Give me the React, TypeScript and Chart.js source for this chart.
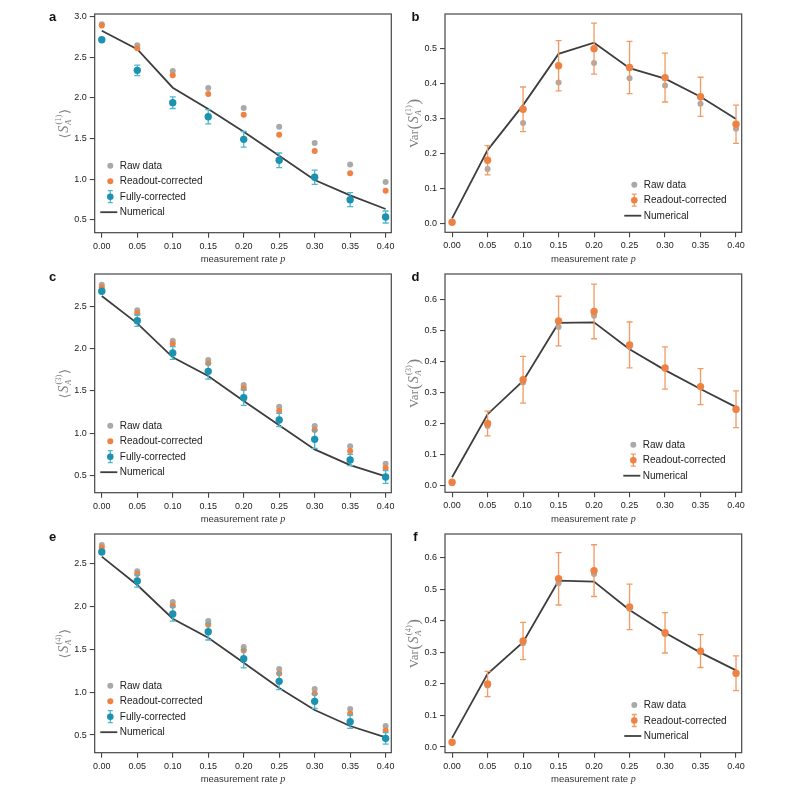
import React, { useEffect, useRef } from 'react';
import { Chart, registerables } from 'chart.js';
Chart.register(...registerables);

// ---------------- data ----------------
const P = [0, 0.05, 0.1, 0.15, 0.2, 0.25, 0.3, 0.35, 0.4];
const X_TICKS = [0, 0.05, 0.1, 0.15, 0.2, 0.25, 0.3, 0.35, 0.4];

const A_RAW = [2.906, 2.648, 2.332, 2.123, 1.877, 1.648, 1.447, 1.184, 0.967];
const A_READOUT = [2.893, 2.611, 2.279, 2.049, 1.795, 1.549, 1.348, 1.074, 0.861];
const A_FULL = [2.717, 2.34, 1.943, 1.77, 1.492, 1.234, 1.025, 0.75, 0.537];
const A_FULL_ERR = [0.01, 0.064, 0.072, 0.088, 0.096, 0.09, 0.088, 0.086, 0.074];
const A_NUM = [2.828, 2.6, 2.127, 1.865, 1.586, 1.291, 0.992, 0.803, 0.635];

const B_RAW = [0.003, 0.156, 0.288, 0.404, 0.46, 0.416, 0.395, 0.343, 0.271];
const B_READOUT = [0.003, 0.181, 0.327, 0.452, 0.501, 0.447, 0.418, 0.363, 0.284];
const B_READOUT_ERR = [0.0, 0.042, 0.064, 0.072, 0.073, 0.075, 0.07, 0.056, 0.055];
const B_NUM = [0.014, 0.21, 0.339, 0.486, 0.518, 0.445, 0.415, 0.363, 0.299];

const C_RAW = [2.761, 2.457, 2.097, 1.868, 1.571, 1.314, 1.085, 0.844, 0.638];
const C_READOUT = [2.729, 2.421, 2.061, 1.828, 1.532, 1.267, 1.038, 0.789, 0.587];
const C_FULL = [2.682, 2.334, 1.951, 1.733, 1.421, 1.156, 0.927, 0.682, 0.48];
const C_FULL_ERR = [0.02, 0.067, 0.075, 0.091, 0.091, 0.079, 0.107, 0.067, 0.075];
const C_NUM = [2.626, 2.302, 1.899, 1.678, 1.381, 1.093, 0.808, 0.621, 0.488];

const D_RAW = [0.0075, 0.192, 0.332, 0.511, 0.547, 0.448, 0.377, 0.319, 0.244];
const D_READOUT = [0.011, 0.2, 0.341, 0.53, 0.561, 0.453, 0.379, 0.319, 0.246];
const D_READOUT_ERR = [0.0, 0.04, 0.075, 0.08, 0.088, 0.074, 0.068, 0.058, 0.059];
const D_NUM = [0.027, 0.23, 0.337, 0.524, 0.526, 0.439, 0.372, 0.311, 0.253];

const E_RAW = [2.714, 2.407, 2.05, 1.828, 1.525, 1.269, 1.036, 0.803, 0.605];
const E_READOUT = [2.686, 2.376, 2.007, 1.785, 1.486, 1.218, 0.985, 0.752, 0.554];
const E_FULL = [2.632, 2.294, 1.91, 1.704, 1.389, 1.125, 0.892, 0.655, 0.461];
const E_FULL_ERR = [0.02, 0.072, 0.083, 0.097, 0.107, 0.097, 0.083, 0.078, 0.068];
const E_NUM = [2.578, 2.248, 1.855, 1.634, 1.343, 1.048, 0.791, 0.605, 0.473];

const F_RAW = [0.014, 0.195, 0.329, 0.519, 0.548, 0.438, 0.358, 0.301, 0.231];
const F_READOUT = [0.015, 0.2, 0.336, 0.533, 0.559, 0.444, 0.362, 0.304, 0.234];
const F_READOUT_ERR = [0.0, 0.04, 0.059, 0.083, 0.082, 0.072, 0.064, 0.052, 0.055];
const F_NUM = [0.029, 0.232, 0.332, 0.527, 0.524, 0.434, 0.362, 0.299, 0.243];

const MEAN_TICKS_A = [0.5, 1.0, 1.5, 2.0, 2.5, 3.0];
const MEAN_TICKS_CE = [0.5, 1.0, 1.5, 2.0, 2.5];
const VAR_TICKS_B = [0.0, 0.1, 0.2, 0.3, 0.4, 0.5];
const VAR_TICKS_DF = [0.0, 0.1, 0.2, 0.3, 0.4, 0.5, 0.6];

const LEGEND_MEAN = ['Raw data', 'Readout-corrected', 'Fully-corrected', 'Numerical'];
const LEGEND_VAR = ['Raw data', 'Readout-corrected', 'Numerical'];
const X_TITLE = 'measurement rate ';
const X_TITLE_VAR = 'p';

// ---------------- style ----------------
const TEAL = '#1b92b0';
const TEAL_ERR = '#52b5cd';
const ORANGE = '#ef8243';
const ORANGE_ERR = '#f29a62';
const GREY = '#a9a9a9';
const LINE = '#3e3e3e';
const FRAME = '#464646';
const TEXT = '#222222';
const TITLE = '#808080';
const SANS = "'Liberation Sans', Arial, sans-serif";
const SERIF = "'Liberation Serif', 'DejaVu Serif', serif";

const YW = 40;
const XH = 30;

type Panel = {
  label: string;
  kind: 'mean' | 'var';
  n: number;
  raw: number[];
  ro: number[];
  full: number[] | null;
  err: number[];
  num: number[];
  yMin: number;
  yMax: number;
  yTicks: number[];
  canvas: [number, number, number, number];
  frame: [number, number, number, number];
  legend: [number, number];
  labelPos: [number, number];
};

const PANELS: Panel[] = [
  { label: 'a', kind: 'mean', n: 1, raw: A_RAW, ro: A_READOUT, full: A_FULL, err: A_FULL_ERR, num: A_NUM,
    yMin: 0.344, yMax: 3.033, yTicks: MEAN_TICKS_A,
    canvas: [0, 0, 400, 266], frame: [94.7, 14, 391.3, 232.7], legend: [15.6, 151.7], labelPos: [52.6, 17] },
  { label: 'b', kind: 'var', n: 1, raw: B_RAW, ro: B_READOUT, full: null, err: B_READOUT_ERR, num: B_NUM,
    yMin: -0.0258, yMax: 0.6004, yTicks: VAR_TICKS_B,
    canvas: [396, 0, 397, 266], frame: [445, 14, 741.7, 232.3], legend: [189.3, 170.7], labelPos: [415.5, 17] },
  { label: 'c', kind: 'mean', n: 3, raw: C_RAW, ro: C_READOUT, full: C_FULL, err: C_FULL_ERR, num: C_NUM,
    yMin: 0.2945, yMax: 2.887, yTicks: MEAN_TICKS_CE,
    canvas: [0, 255, 400, 272], frame: [94.7, 274, 391.3, 492.7], legend: [15.6, 151.7], labelPos: [52.6, 277] },
  { label: 'd', kind: 'var', n: 3, raw: D_RAW, ro: D_READOUT, full: null, err: D_READOUT_ERR, num: D_NUM,
    yMin: -0.0215, yMax: 0.6816, yTicks: VAR_TICKS_DF,
    canvas: [396, 255, 397, 272], frame: [445, 274, 741.7, 492.3], legend: [188.3, 170.7], labelPos: [415.5, 277] },
  { label: 'e', kind: 'mean', n: 4, raw: E_RAW, ro: E_READOUT, full: E_FULL, err: E_FULL_ERR, num: E_NUM,
    yMin: 0.294, yMax: 2.842, yTicks: MEAN_TICKS_CE,
    canvas: [0, 515, 400, 278], frame: [94.7, 534, 391.3, 752.7], legend: [15.6, 151.7], labelPos: [52.6, 537] },
  { label: 'f', kind: 'var', n: 4, raw: F_RAW, ro: F_READOUT, full: null, err: F_READOUT_ERR, num: F_NUM,
    yMin: -0.018, yMax: 0.675, yTicks: VAR_TICKS_DF,
    canvas: [396, 515, 397, 278], frame: [445, 534, 741.7, 752.7], legend: [189.3, 171], labelPos: [415.5, 537] },
];

function drawErrBar(ctx: CanvasRenderingContext2D, x: number, y1: number, y2: number, color: string, cap: number) {
  ctx.save();
  ctx.strokeStyle = color;
  ctx.lineWidth = 1.3;
  ctx.beginPath();
  ctx.moveTo(x, y1);
  ctx.lineTo(x, y2);
  ctx.moveTo(x - cap, y1);
  ctx.lineTo(x + cap, y1);
  ctx.moveTo(x - cap, y2);
  ctx.lineTo(x + cap, y2);
  ctx.stroke();
  ctx.restore();
}

function drawDot(ctx: CanvasRenderingContext2D, x: number, y: number, r: number, color: string) {
  ctx.save();
  ctx.fillStyle = color;
  ctx.beginPath();
  ctx.arc(x, y, r, 0, Math.PI * 2);
  ctx.fill();
  ctx.restore();
}

function drawYTitle(ctx: CanvasRenderingContext2D, kind: 'mean' | 'var', n: number, cx: number, cy: number) {
  ctx.save();
  ctx.translate(cx, cy);
  ctx.rotate(-Math.PI / 2);
  ctx.fillStyle = TITLE;
  ctx.textBaseline = 'alphabetic';
  ctx.textAlign = 'left';
  type Seg = { t: string; f: string; dy: number } | { sup: string; sub: string; fs: string; fb: string };
  const segs: Seg[] = [];
  if (kind === 'mean') {
    segs.push({ t: '\u27E8', f: `13px 'DejaVu Serif', serif`, dy: 1 });
  } else {
    segs.push({ t: 'Var', f: `13px ${SERIF}`, dy: 0 });
    segs.push({ t: '(', f: `17px ${SERIF}`, dy: 1.5 });
  }
  segs.push({ t: 'S', f: `italic 14px ${SERIF}`, dy: 0 });
  segs.push({ sup: `(${n})`, sub: 'A', fs: `8.5px ${SERIF}`, fb: `italic 8.5px ${SERIF}` });
  if (kind === 'mean') {
    segs.push({ t: '\u27E9', f: `13px 'DejaVu Serif', serif`, dy: 1 });
  } else {
    segs.push({ t: ')', f: `17px ${SERIF}`, dy: 1.5 });
  }
  const widths = segs.map((s) => {
    if ('t' in s) {
      ctx.font = s.f;
      return ctx.measureText(s.t).width + 0.6;
    }
    ctx.font = s.fs;
    const w1 = ctx.measureText(s.sup).width;
    ctx.font = s.fb;
    const w2 = ctx.measureText(s.sub).width;
    return Math.max(w1, w2) + 1.2;
  });
  const total = widths.reduce((a, b) => a + b, 0);
  let x = -total / 2;
  const base = 5;
  segs.forEach((s, i) => {
    if ('t' in s) {
      ctx.font = s.f;
      ctx.fillText(s.t, x, base + s.dy);
    } else {
      ctx.font = s.fs;
      ctx.fillText(s.sup, x + 0.6, base - 6.5);
      ctx.font = s.fb;
      ctx.fillText(s.sub, x, base + 3);
    }
    x += widths[i];
  });
  ctx.restore();
}

function makePlugin(p: Panel) {
  return {
    id: 'panelDecor' + p.label,
    beforeDatasetDraw(chart: any, args: any) {
      const ds = chart.data.datasets[args.index];
      if (!ds.errKey) return;
      const ctx = chart.ctx as CanvasRenderingContext2D;
      const xs = chart.scales.x;
      const ys = chart.scales.y;
      const values: number[] = ds.errBase;
      const errs: number[] = ds.errVals;
      ctx.save();
      const a = chart.chartArea;
      ctx.beginPath();
      ctx.rect(a.left, a.top, a.right - a.left, a.bottom - a.top);
      ctx.clip();
      P.forEach((px, i) => {
        const x = xs.getPixelForValue(px);
        const y1 = ys.getPixelForValue(values[i] + errs[i]);
        const y2 = ys.getPixelForValue(values[i] - errs[i]);
        drawErrBar(ctx, x, y1, y2, ds.errColor, 3);
      });
      ctx.restore();
    },
    afterDraw(chart: any) {
      const ctx = chart.ctx as CanvasRenderingContext2D;
      const a = chart.chartArea;
      // frame
      ctx.save();
      ctx.strokeStyle = FRAME;
      ctx.lineWidth = 1.2;
      ctx.strokeRect(a.left, a.top, a.right - a.left, a.bottom - a.top);
      ctx.restore();
      // legend
      const lx = a.left + p.legend[0];
      let ly = a.top + p.legend[1];
      const step = 15.5;
      const labels = p.kind === 'mean' ? LEGEND_MEAN : LEGEND_VAR;
      ctx.save();
      ctx.font = `10px ${SANS}`;
      ctx.fillStyle = TEXT;
      ctx.textBaseline = 'middle';
      labels.forEach((lab) => {
        if (lab === 'Raw data') drawDot(ctx, lx, ly, 3, GREY);
        else if (lab === 'Readout-corrected') {
          if (p.kind === 'var') {
            drawErrBar(ctx, lx, ly - 6, ly + 6, ORANGE_ERR, 2.5);
            drawDot(ctx, lx, ly, 3.3, ORANGE);
          } else drawDot(ctx, lx, ly, 3, ORANGE);
        } else if (lab === 'Fully-corrected') {
          drawErrBar(ctx, lx, ly - 6, ly + 6, TEAL_ERR, 2.5);
          drawDot(ctx, lx, ly, 3.3, TEAL);
        } else {
          ctx.save();
          ctx.strokeStyle = LINE;
          ctx.lineWidth = 1.8;
          ctx.beginPath();
          ctx.moveTo(lx - 10, ly);
          ctx.lineTo(lx + 7, ly);
          ctx.stroke();
          ctx.restore();
        }
        ctx.fillStyle = TEXT;
        ctx.fillText(lab, lx + 9.5, ly + 0.5);
        ly += step;
      });
      ctx.restore();
      // x title
      ctx.save();
      ctx.fillStyle = '#333333';
      ctx.textBaseline = 'middle';
      ctx.font = `9.5px ${SANS}`;
      const w1 = ctx.measureText(X_TITLE).width;
      ctx.font = `italic 10px ${SERIF}`;
      const w2 = ctx.measureText(X_TITLE_VAR).width;
      const cx = (a.left + a.right) / 2;
      const ty = a.bottom + 26.6;
      const tx = cx - (w1 + w2) / 2;
      ctx.font = `9.5px ${SANS}`;
      ctx.fillText(X_TITLE, tx, ty);
      ctx.font = `italic 10px ${SERIF}`;
      ctx.fillText(X_TITLE_VAR, tx + w1, ty);
      ctx.restore();
      // y title
      drawYTitle(ctx, p.kind, p.n, a.left - 32.2, (a.top + a.bottom) / 2);
      // panel label
      ctx.save();
      ctx.fillStyle = '#111111';
      ctx.font = `bold 13px ${SANS}`;
      ctx.textAlign = 'center';
      ctx.textBaseline = 'middle';
      ctx.fillText(p.label, p.labelPos[0] - p.canvas[0], p.labelPos[1] - p.canvas[1]);
      ctx.restore();
    },
  };
}

function pts(vals: number[]) {
  return P.map((x, i) => ({ x, y: vals[i] }));
}

function PanelChart({ p }: { p: Panel }) {
  const ref = useRef<HTMLCanvasElement | null>(null);
  useEffect(() => {
    const el = ref.current;
    if (!el) return;
    const [cx, cy, cw, ch] = p.canvas;
    const [l, t, r, b] = p.frame;
    const padding = {
      left: l - cx - YW,
      top: t - cy,
      right: cx + cw - r,
      bottom: cy + ch - b - XH,
    };
    const datasets: any[] = [
      { label: 'Numerical', data: pts(p.num), showLine: true, borderColor: LINE, borderWidth: 1.8, pointRadius: 0, fill: false, order: 4 },
      { label: 'Raw data', data: pts(p.raw), backgroundColor: GREY, borderWidth: 0, pointRadius: 3, order: 3 },
    ];
    if (p.kind === 'mean') {
      datasets.push({ label: 'Readout-corrected', data: pts(p.ro), backgroundColor: ORANGE, borderWidth: 0, pointRadius: 3, order: 2 });
      datasets.push({ label: 'Fully-corrected', data: pts(p.full as number[]), backgroundColor: TEAL, borderWidth: 0, pointRadius: 3.7, order: 1,
        errKey: true, errBase: p.full, errVals: p.err, errColor: TEAL_ERR });
    } else {
      datasets.push({ label: 'Readout-corrected', data: pts(p.ro), backgroundColor: ORANGE, borderWidth: 0, pointRadius: 3.7, order: 1,
        errKey: true, errBase: p.ro, errVals: p.err, errColor: ORANGE_ERR });
    }
    const tickFont = { family: SANS, size: 9 };
    const chart = new Chart(el, {
      type: 'scatter',
      data: { datasets },
      options: {
        animation: false,
        responsive: false,
        maintainAspectRatio: false,
        layout: { padding },
        plugins: { legend: { display: false }, tooltip: { enabled: false } },
        scales: {
          x: {
            type: 'linear',
            min: -0.01,
            max: 0.408,
            afterBuildTicks: (s: any) => { s.ticks = X_TICKS.map((v) => ({ value: v })); },
            afterFit: (s: any) => { s.height = XH; },
            grid: { drawOnChartArea: false, drawTicks: true, tickLength: 5, color: FRAME, lineWidth: 1.1 },
            border: { display: false },
            ticks: { font: tickFont, color: TEXT, padding: 3, maxRotation: 0, autoSkip: false,
              callback: (v: any) => Number(v).toFixed(2) },
          },
          y: {
            type: 'linear',
            min: p.yMin,
            max: p.yMax,
            afterBuildTicks: (s: any) => { s.ticks = p.yTicks.map((v) => ({ value: v })); },
            afterFit: (s: any) => { s.width = YW; },
            grid: { drawOnChartArea: false, drawTicks: true, tickLength: 5, color: FRAME, lineWidth: 1.1 },
            border: { display: false },
            ticks: { font: tickFont, color: TEXT, padding: 3, autoSkip: false,
              callback: (v: any) => Number(v).toFixed(1) },
          },
        },
      } as any,
      plugins: [makePlugin(p)],
    });
    return () => chart.destroy();
  }, [p]);
  const [cx, cy, cw, ch] = p.canvas;
  return (
    <canvas
      ref={ref}
      width={cw}
      height={ch}
      style={{ position: 'absolute', left: cx, top: cy, width: cw, height: ch }}
    />
  );
}

export default function App() {
  return (
    <div style={{ position: 'fixed', left: 0, top: 0, width: 793, height: 793, background: '#ffffff', overflow: 'hidden' }}>
      {PANELS.map((p) => (
        <PanelChart key={p.label} p={p} />
      ))}
    </div>
  );
}
